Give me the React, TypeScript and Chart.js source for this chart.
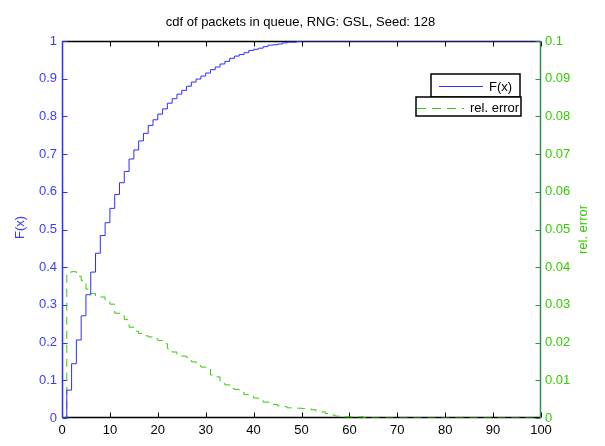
import React, { useEffect, useRef } from 'react';
import { Chart, registerables } from 'chart.js';

Chart.register(...registerables);

const TITLE = 'cdf of packets in queue, RNG: GSL, Seed: 128';
const LEFT_LABEL = 'F(x)';
const RIGHT_LABEL = 'rel. error';
const LEGEND_LABELS = ['F(x)', 'rel. error'];

const xTicks = [0, 10, 20, 30, 40, 50, 60, 70, 80, 90, 100];
const leftTicks = [0, 0.1, 0.2, 0.3, 0.4, 0.5, 0.6, 0.7, 0.8, 0.9, 1];
const rightTicks = [0, 0.01, 0.02, 0.03, 0.04, 0.05, 0.06, 0.07, 0.08, 0.09, 0.1];

const cdfX = [
  0, 1, 2, 3, 4, 5, 6, 7, 8, 9, 10, 11, 12, 13, 14, 15, 16, 17, 18, 19, 20,
  21, 22, 23, 24, 25, 26, 27, 28, 29, 30, 31, 32, 33, 34, 35, 36, 37, 38, 39, 40,
  41, 42, 43, 44, 45, 46, 47, 48, 49, 50, 100,
];
const cdfY = [
  0, 0.074, 0.144, 0.207, 0.271, 0.327, 0.387, 0.437, 0.484, 0.518, 0.556,
  0.593, 0.624, 0.654, 0.687, 0.711, 0.735, 0.755, 0.776, 0.791, 0.806,
  0.82, 0.835, 0.847, 0.859, 0.869, 0.88, 0.891, 0.899, 0.907, 0.915,
  0.924, 0.931, 0.939, 0.946, 0.954, 0.96, 0.964, 0.969, 0.975, 0.978,
  0.981, 0.985, 0.989, 0.99, 0.992, 0.995, 0.997, 0.997, 0.999, 1, 1,
];

const errX = [
  0, 1, 2, 3, 4, 5, 6, 7, 8, 9, 10, 11, 12, 13, 14, 15, 16, 17, 18, 19, 20,
  21, 22, 23, 24, 25, 26, 27, 28, 29, 30, 31, 32, 33, 34, 35, 36, 37, 38, 39, 40,
  41, 42, 43, 44, 45, 46, 47, 48, 49, 50, 51, 52, 53, 54, 55, 56, 57, 58, 59, 60,
  61, 62, 63, 64, 100,
];
const errY = [
  0, 0.0387, 0.0388, 0.0376, 0.0365, 0.0342, 0.033, 0.0323, 0.0321, 0.0311, 0.0302,
  0.0278, 0.0271, 0.0261, 0.0241, 0.023, 0.0224, 0.0218, 0.0215, 0.021, 0.0206,
  0.0197, 0.0184, 0.0175, 0.0167, 0.0164, 0.0161, 0.0149, 0.0139, 0.0135, 0.0131,
  0.0114, 0.0109, 0.0092, 0.0088, 0.0078, 0.0076, 0.0068, 0.0062, 0.0058, 0.0053,
  0.0047, 0.0042, 0.0042, 0.0036, 0.0032, 0.003, 0.0027, 0.0026, 0.0026, 0.0025,
  0.0025, 0.0022, 0.0018, 0.0016, 0.0012, 0.0008, 0.0005, 0.0003, 0.0003, 0.0003,
  0.0003, 0.0003, 0.0001, 0, 0,
];

const FONT = '"Liberation Sans", Arial, Helvetica, sans-serif';
const FS = 13;
const BLUE = '#2e2eff';
const BLUE_TEXT = '#3c3cff';
const GREEN = '#33cc00';
const GREEN_TEXT = '#33cc00';
const GREEN_AXIS = '#2f8f4f';

const framePlugin = {
  id: 'framePlugin',
  beforeDatasetsDraw(chart: any) {
    const { ctx, chartArea: a, scales } = chart;
    const L = Math.round(a.left) + 0.5;
    const R = Math.round(a.right) - 0.5;
    const T = Math.round(a.top) + 0.5;
    const B = Math.round(a.bottom) - 0.5;
    const seg = (x1: number, y1: number, x2: number, y2: number) => {
      ctx.beginPath();
      ctx.moveTo(x1, y1);
      ctx.lineTo(x2, y2);
      ctx.stroke();
    };
    ctx.save();
    ctx.lineWidth = 1;
    ctx.strokeStyle = '#000';
    for (const v of xTicks) {
      const px = Math.round(scales.x.getPixelForValue(v)) + 0.5;
      seg(px, B, px, B - 5);
      seg(px, T, px, T + 5);
    }
    ctx.lineWidth = 1.5;
    seg(L, T, R, T);
    seg(L, B, R, B);
    ctx.lineWidth = 1;
    ctx.strokeStyle = BLUE;
    for (const v of leftTicks) {
      const py = Math.round(scales.y.getPixelForValue(v)) + 0.5;
      seg(L, py, L + 5, py);
    }
    ctx.lineWidth = 1.5;
    seg(L, T, L, B);
    ctx.lineWidth = 1;
    ctx.strokeStyle = GREEN_AXIS;
    for (const v of rightTicks) {
      const py = Math.round(scales.y1.getPixelForValue(v)) + 0.5;
      seg(R, py, R - 5, py);
    }
    ctx.lineWidth = 1.5;
    seg(R, T, R, B);
    ctx.restore();
  },
  afterDraw(chart: any) {
    const { ctx, chartArea: a } = chart;
    ctx.save();
    ctx.font = `${FS}px ${FONT}`;
    ctx.textBaseline = 'middle';
    ctx.textAlign = 'center';
    ctx.fillStyle = '#000';
    ctx.fillText(TITLE, (a.left + a.right) / 2 - 1, 22);

    const cy = (a.top + a.bottom) / 2;
    ctx.save();
    ctx.translate(20, cy - 2);
    ctx.rotate(-Math.PI / 2);
    ctx.fillStyle = BLUE_TEXT;
    ctx.fillText(LEFT_LABEL, 0, 0);
    ctx.restore();
    ctx.save();
    ctx.translate(583, cy);
    ctx.rotate(-Math.PI / 2);
    ctx.fillStyle = GREEN_TEXT;
    ctx.fillText(RIGHT_LABEL, 0, 0);
    ctx.restore();

    // legend boxes
    ctx.fillStyle = '#fff';
    ctx.strokeStyle = '#000';
    ctx.lineWidth = 1.5;
    ctx.fillRect(431, 74, 89, 23);
    ctx.strokeRect(431, 74, 89, 23);
    ctx.fillRect(416, 97, 105, 19);
    ctx.strokeRect(416, 97, 105, 19);

    ctx.lineWidth = 1;
    ctx.strokeStyle = BLUE;
    ctx.beginPath();
    ctx.moveTo(439, 86.5);
    ctx.lineTo(483, 86.5);
    ctx.stroke();
    ctx.strokeStyle = GREEN;
    ctx.setLineDash([9, 6]);
    ctx.beginPath();
    ctx.moveTo(417, 108.5);
    ctx.lineTo(464, 108.5);
    ctx.stroke();
    ctx.setLineDash([]);

    ctx.fillStyle = '#000';
    ctx.textAlign = 'left';
    ctx.fillText(LEGEND_LABELS[0], 489, 87);
    ctx.fillText(LEGEND_LABELS[1], 470, 108);
    ctx.restore();
  },
};

export default function App() {
  const ref = useRef<HTMLCanvasElement | null>(null);

  useEffect(() => {
    if (!ref.current) return;
    const chart = new Chart(ref.current, {
      type: 'line',
      data: {
        datasets: [
          {
            label: LEGEND_LABELS[0],
            data: cdfX.map((x, i) => ({ x, y: cdfY[i] })),
            borderColor: BLUE,
            borderWidth: 1,
            pointRadius: 0,
            stepped: 'before',
            yAxisID: 'y',
            fill: false,
          },
          {
            label: LEGEND_LABELS[1],
            data: errX.map((x, i) => ({ x, y: errY[i] })),
            borderColor: GREEN,
            borderWidth: 1,
            borderDash: [8, 6],
            pointRadius: 0,
            stepped: 'before',
            yAxisID: 'y1',
            fill: false,
          },
        ],
      },
      options: {
        responsive: false,
        animation: false,
        events: [],
        layout: { padding: { top: 41, left: 0, right: 0, bottom: 0 } },
        plugins: {
          legend: { display: false },
          title: { display: false },
          tooltip: { enabled: false },
        },
        scales: {
          x: {
            type: 'linear',
            min: 0,
            max: 100,
            grid: { display: false, drawTicks: false },
            border: { display: false },
            afterBuildTicks: (s: any) => {
              s.ticks = xTicks.map((v) => ({ value: v }));
            },
            afterFit: (s: any) => {
              s.height = 28;
            },
            ticks: {
              padding: 5,
              color: '#000',
              font: { family: FONT, size: FS },
              maxRotation: 0,
              autoSkip: false,
              callback: (v: any) => String(v),
            },
          },
          y: {
            type: 'linear',
            position: 'left',
            min: 0,
            max: 1,
            grid: { display: false, drawTicks: false },
            border: { display: false },
            afterBuildTicks: (s: any) => {
              s.ticks = leftTicks.map((v) => ({ value: v }));
            },
            afterFit: (s: any) => {
              s.width = 62;
            },
            ticks: {
              padding: 5,
              color: BLUE_TEXT,
              font: { family: FONT, size: FS },
              autoSkip: false,
              callback: (v: any) => String(Math.round(Number(v) * 100) / 100),
            },
          },
          y1: {
            type: 'linear',
            position: 'right',
            min: 0,
            max: 0.1,
            grid: { display: false, drawTicks: false },
            border: { display: false },
            afterBuildTicks: (s: any) => {
              s.ticks = rightTicks.map((v) => ({ value: v }));
            },
            afterFit: (s: any) => {
              s.width = 64;
            },
            ticks: {
              padding: 4,
              color: GREEN_TEXT,
              font: { family: FONT, size: FS },
              autoSkip: false,
              callback: (v: any) => String(Math.round(Number(v) * 1000) / 1000),
            },
          },
        },
      },
      plugins: [framePlugin],
    } as any);
    return () => chart.destroy();
  }, []);

  return (
    <div style={{ position: 'fixed', left: 0, top: 0, width: 605, height: 446, background: '#fff' }}>
      <canvas ref={ref} width={605} height={446} style={{ display: 'block' }} />
    </div>
  );
}
